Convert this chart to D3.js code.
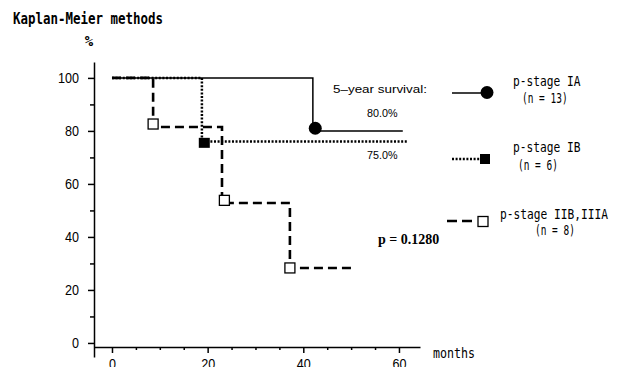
<!DOCTYPE html>
<html>
<head>
<meta charset="utf-8">
<script src="https://cdn.jsdelivr.net/npm/d3@7"></script>
<style>
  body { margin: 0; background: #fff; }
  svg { display: block; }
</style>
</head>
<body>
<script>
// Kaplan-Meier curves, values (months, % survival)
var iaMonths = [0, 42, 60.8],
    iaSurv = [100, 80, 80];
var ibMonths = [0, 18.8, 61.9],
    ibSurv = [100, 76, 76];
var iiMonths = [0, 8.6, 23, 37.2, 50.4],
    iiSurv = [100, 81.5, 52.8, 28.3, 28.3];

// event markers drawn on the curves
var iaMarkMonths = [42.5], iaMarkSurv = [81];
var ibMarkMonths = [19.3], ibMarkSurv = [75.5];
var iiMarkMonths = [8.6, 23.5, 37.2], iiMarkSurv = [82.6, 53.8, 28.3];

// tick labels
var xTicks = [0, 20, 40, 60],
    xMinor = [5, 10, 15, 25, 30, 35, 45, 50, 55],
    yTicks = [0, 20, 40, 60, 80, 100],
    yMinor = [10, 30, 50, 70, 90];

var stageNames = ["p-stage IA", "p-stage IB", "p-stage IIB,IIIA"],
    stageCounts = [13, 6, 8],
    fiveYear = ["80.0%", "75.0%"],
    pValue = "0.1280";

var width = 629, height = 367;
var gothic = "'DejaVu Sans Mono', monospace",
    sans = "'Liberation Sans', Arial, sans-serif";

var svg = d3.select("body").append("svg")
    .attr("width", width)
    .attr("height", height);
svg.append("rect").attr("width", width).attr("height", height).attr("fill", "#fff");

var x = d3.scaleLinear().domain([-3.76, 64.4]).range([94, 420]);
var y = d3.scaleLinear().domain([-5.3, 106]).range([357, 62]);

// squeeze text to the narrow look of the original
function squeeze(sel, w) {
    sel.attr("textLength", function () { return this.textContent.length * w; })
       .attr("lengthAdjust", "spacingAndGlyphs");
}

// axes
var gy = svg.append("g")
    .attr("transform", "translate(94,0)")
    .call(d3.axisLeft(y).tickValues(yTicks).tickSize(6).tickSizeOuter(0).tickPadding(9));
gy.append("g").call(d3.axisLeft(y).tickValues(yMinor).tickSize(4).tickFormat(""))
    .select(".domain").remove();

var gx = svg.append("g")
    .attr("transform", "translate(0,347)")
    .call(d3.axisBottom(x).tickValues(xTicks).tickSize(6).tickSizeOuter(0).tickPadding(6));
gx.append("g").call(d3.axisBottom(x).tickValues(xMinor).tickSize(3).tickFormat(""))
    .select(".domain").remove();

svg.selectAll(".domain, .tick line").attr("stroke", "#000").attr("stroke-width", 1.5);
svg.selectAll(".tick text").attr("font-family", sans).attr("font-size", 14).attr("fill", "#000");
gy.selectAll(".tick text").call(squeeze, 7);
gx.selectAll(".tick text").call(squeeze, 7);

// curves
var line = d3.line()
    .x(function (d) { return x(d[0]); })
    .y(function (d) { return y(d[1]); })
    .curve(d3.curveStepAfter);

function pts(ms, ss) { return ms.map(function (m, i) { return [m, ss[i]]; }); }

svg.append("path").datum(pts(iaMonths, iaSurv))
    .attr("d", line).attr("fill", "none").attr("stroke", "#000").attr("stroke-width", 1.5);
svg.append("path").datum(pts(ibMonths, ibSurv))
    .attr("d", line).attr("fill", "none").attr("stroke", "#000").attr("stroke-width", 2.5)
    .attr("stroke-dasharray", "2,1.6");
svg.append("path").datum(pts(iiMonths, iiSurv))
    .attr("d", line).attr("fill", "none").attr("stroke", "#000").attr("stroke-width", 2.6)
    .attr("stroke-dasharray", "9,5");

// markers
svg.selectAll(".mIA").data(pts(iaMarkMonths, iaMarkSurv)).enter().append("circle")
    .attr("cx", function (d) { return x(d[0]); })
    .attr("cy", function (d) { return y(d[1]); })
    .attr("r", 6.5).attr("fill", "#000");
svg.selectAll(".mIB").data(pts(ibMarkMonths, ibMarkSurv)).enter().append("rect")
    .attr("x", function (d) { return x(d[0]) - 5.5; })
    .attr("y", function (d) { return y(d[1]) - 5; })
    .attr("width", 11).attr("height", 10).attr("fill", "#000");
svg.selectAll(".mII").data(pts(iiMarkMonths, iiMarkSurv)).enter().append("rect")
    .attr("x", function (d) { return x(d[0]) - 5; })
    .attr("y", function (d) { return y(d[1]) - 5; })
    .attr("width", 10).attr("height", 10)
    .attr("fill", "#fff").attr("stroke", "#000").attr("stroke-width", 1.3);

// titles
svg.append("text").attr("x", 13).attr("y", 24)
    .attr("font-family", gothic).attr("font-size", 15).attr("font-weight", "bold")
    .text("Kaplan-Meier methods").call(squeeze, 7.5);
svg.append("text").attr("x", 89).attr("y", 46).attr("text-anchor", "middle")
    .attr("font-family", gothic).attr("font-size", 14).attr("font-weight", "bold").text("%");
svg.append("text").attr("x", 433).attr("y", 358)
    .attr("font-family", gothic).attr("font-size", 14).text("months").call(squeeze, 7);

// 5-year survival notes
svg.append("text").attr("x", 333).attr("y", 93)
    .attr("font-family", sans).attr("font-size", 11.5)
    .attr("textLength", 94).attr("lengthAdjust", "spacingAndGlyphs")
    .text("5\u2013year survival:");
svg.selectAll(".fy").data(fiveYear).enter().append("text")
    .attr("x", 367)
    .attr("y", function (d, i) { return i === 0 ? 117 : 159; })
    .attr("font-family", sans).attr("font-size", 11.5)
    .text(function (d) { return d; }).call(squeeze, 6.1);

svg.append("text").attr("x", 378).attr("y", 244)
    .attr("font-family", "'Liberation Serif', 'Times New Roman', serif")
    .attr("font-size", 14).attr("font-weight", "bold")
    .text("p = " + pValue);

// legend
var legendPos = [
    { nameX: 513, nameY: 86, nX: 522, nY: 103 },
    { nameX: 513, nameY: 152, nX: 518, nY: 170 },
    { nameX: 500, nameY: 219, nX: 535, nY: 235 }
];

svg.append("line").attr("x1", 452).attr("x2", 482).attr("y1", 93).attr("y2", 93)
    .attr("stroke", "#000").attr("stroke-width", 1.5);
svg.append("circle").attr("cx", 487).attr("cy", 92.5).attr("r", 6.5).attr("fill", "#000");

svg.append("line").attr("x1", 452).attr("x2", 481).attr("y1", 159).attr("y2", 159)
    .attr("stroke", "#000").attr("stroke-width", 2.5).attr("stroke-dasharray", "2,1.6");
svg.append("rect").attr("x", 480).attr("y", 154).attr("width", 10).attr("height", 10).attr("fill", "#000");

svg.append("line").attr("x1", 447).attr("x2", 473).attr("y1", 221).attr("y2", 221)
    .attr("stroke", "#000").attr("stroke-width", 2.6).attr("stroke-dasharray", "10,5");
svg.append("rect").attr("x", 478).attr("y", 216.5).attr("width", 10).attr("height", 10)
    .attr("fill", "#fff").attr("stroke", "#000").attr("stroke-width", 1.3);

stageNames.forEach(function (name, i) {
    var p = legendPos[i];
    svg.append("text").attr("x", p.nameX).attr("y", p.nameY)
        .attr("font-family", gothic).attr("font-size", 14.5)
        .text(name).call(squeeze, 6.75);
    svg.append("text").attr("x", p.nX).attr("y", p.nY)
        .attr("font-family", gothic).attr("font-size", 14)
        .text("(n = " + stageCounts[i] + ")").call(squeeze, 5.7);
});
</script>
</body>
</html>
